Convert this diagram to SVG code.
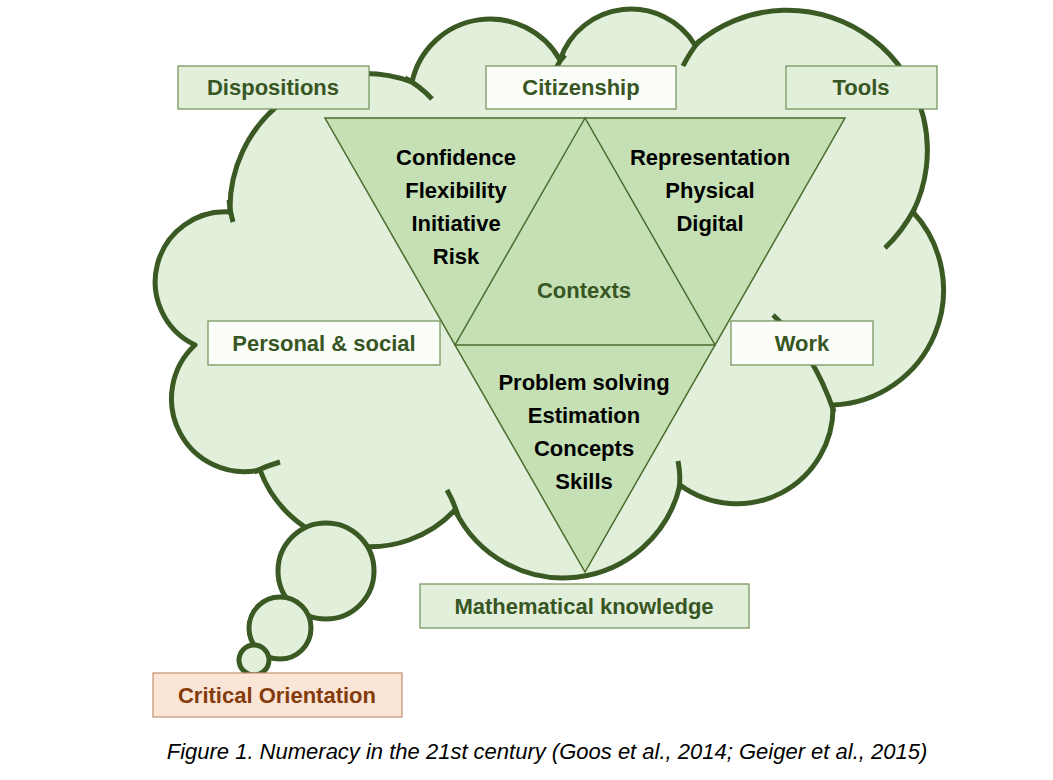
<svg xmlns="http://www.w3.org/2000/svg" width="1053" height="780" viewBox="0 0 1053 780">
<style>
.cl{fill:#e2efda;stroke:#3b5a23;stroke-width:5;stroke-linejoin:round}
.tail{fill:none;stroke:#3b5a23;stroke-width:5;stroke-linecap:butt}
.tri{fill:#c5e0b4;stroke:#4a6b2e;stroke-width:1.5;stroke-linejoin:miter}
.bg{fill:#e2efda;stroke:#6f8f55;stroke-width:1.2}
.bw{fill:#fbfdf9;stroke:#6f8f55;stroke-width:1.2}
.lab{font-family:"Liberation Sans","Open Sans",sans-serif;font-weight:bold;font-size:22px;fill:#375623;text-anchor:middle}
.blk{font-family:"Liberation Sans","Open Sans",sans-serif;font-weight:bold;font-size:22px;fill:#000;text-anchor:middle}
</style>
<rect width="1053" height="780" fill="#fff"/>
<g id="cloud">
<path class="cl" d="M230,212 A135,135 0 0 1 412,82 A80,80 0 0 1 560,60 A75,75 0 0 1 695,45 A140,140 0 0 1 913,212 A115,115 0 0 1 833,405 A96,96 0 0 1 680,485 A120,120 0 0 1 455,510 A117,117 0 0 1 260,470 A73,73 0 0 1 195,345 A70,70 0 0 1 230,212 Z"/>
<path class="tail" d="M229,200 Q230,212 233,222"/>
<path class="tail" d="M405,78 Q420,86 432,99"/>
<path class="tail" d="M565,55 Q560,60 556,68"/>
<path class="tail" d="M700,40 Q690,52 683,66"/>
<path class="tail" d="M915,208 Q902,232 885,248"/>
<path class="tail" d="M834,412 Q814,352 773,315"/>
<path class="tail" d="M679,490 Q681,476 678,461"/>
<path class="tail" d="M458,516 Q454,502 447,490"/>
<path class="tail" d="M254,472 Q266,466 280,462"/>
<circle class="cl" cx="326" cy="571" r="48"/>
<circle class="cl" cx="280" cy="628" r="31"/>
<circle class="cl" cx="254" cy="660" r="15"/>
</g>
<g id="triangles">
<polygon class="tri" points="325,118 845,118 585,572"/>
<polygon class="tri" points="585,118 455,345 715,345"/>
</g>
<g id="n-disp"><rect class="bg" x="178" y="66" width="191" height="43"/><text class="lab" x="273" y="95">Dispositions</text></g>
<g id="n-cit"><rect class="bw" x="486" y="66" width="190" height="43"/><text class="lab" x="581" y="95">Citizenship</text></g>
<g id="n-tools"><rect class="bg" x="786" y="66" width="151" height="43"/><text class="lab" x="861" y="95">Tools</text></g>
<g id="n-pers"><rect class="bw" x="208" y="321" width="232" height="44"/><text class="lab" x="324" y="351">Personal &amp; social</text></g>
<g id="n-work"><rect class="bw" x="731" y="321" width="142" height="44"/><text class="lab" x="802" y="351">Work</text></g>
<g id="n-math"><rect class="bg" x="420" y="584" width="329" height="44"/><text class="lab" x="584" y="614">Mathematical knowledge</text></g>
<g id="n-crit"><rect x="153" y="673" width="249" height="44" fill="#fbe5d6" stroke="#c09070" stroke-width="1.2"/><text class="lab" x="277" y="703" style="fill:#843c0c">Critical Orientation</text></g>
<g id="n-disp-items" class="blk"><text x="456" y="165">Confidence</text><text x="456" y="198">Flexibility</text><text x="456" y="231">Initiative</text><text x="456" y="264">Risk</text></g>
<g id="n-tool-items" class="blk"><text x="710" y="165">Representation</text><text x="710" y="198">Physical</text><text x="710" y="231">Digital</text></g>
<g id="n-ctx"><text class="lab" x="584" y="298">Contexts</text></g>
<g id="n-math-items" class="blk"><text x="584" y="390">Problem solving</text><text x="584" y="423">Estimation</text><text x="584" y="456">Concepts</text><text x="584" y="489">Skills</text></g>
<g id="connectors"/>
<text x="547" y="759" font-family="Liberation Sans,Arial,sans-serif" font-style="italic" font-size="22" text-anchor="middle" fill="#000">Figure 1. Numeracy in the 21st century (Goos et al., 2014; Geiger et al., 2015)</text>
</svg>
